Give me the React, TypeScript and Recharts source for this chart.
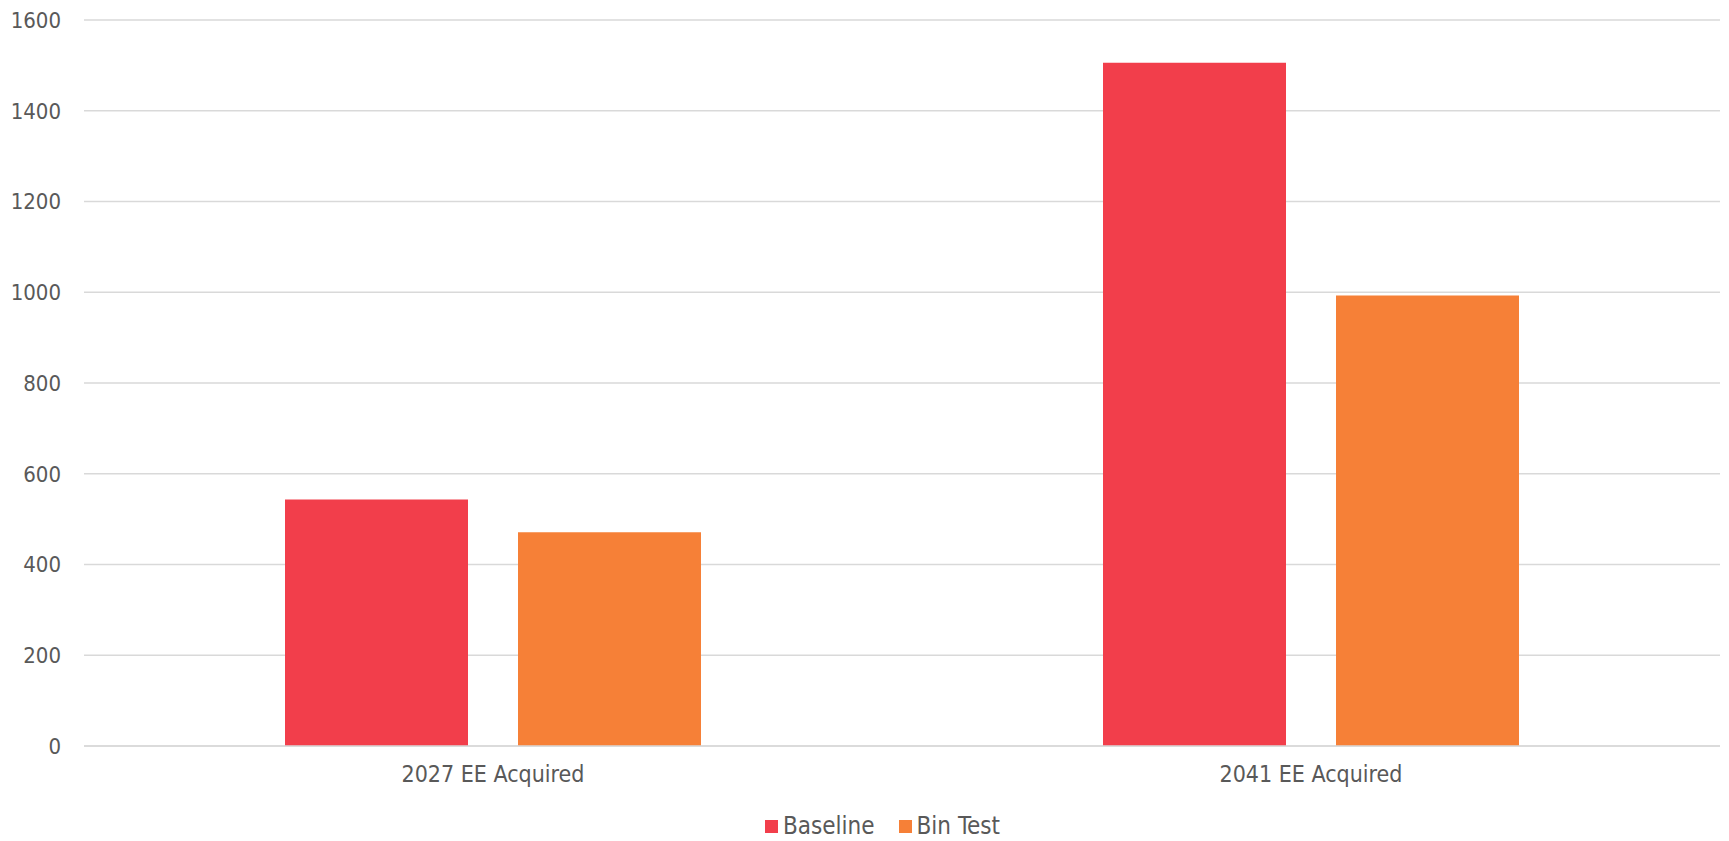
import { BarChart, Bar, XAxis, YAxis, CartesianGrid, Legend } from "recharts";

const categories = ["2027 EE Acquired", "2041 EE Acquired"];
const baseline = [543, 1506];
const binTest = [471, 993];
const yTicks = [0, 200, 400, 600, 800, 1000, 1200, 1400, 1600];

const FONT = "'DejaVu Sans Condensed', 'DejaVu Sans', sans-serif";
const TEXT = "#595959";

const data = categories.map((name, i) => ({
    name,
    baseline: baseline[i],
    binTest: binTest[i],
}));

// eslint-disable-next-line @typescript-eslint/no-explicit-any
const LegendContent = ({ payload }: { payload?: any[] }) => (
    <div
        style={{
            display: "flex",
            justifyContent: "center",
            gap: 24,
            paddingLeft: 36,
            fontFamily: FONT,
            fontSize: 24,
            color: TEXT,
        }}
    >
        {(payload || []).map((entry) => (
            <div
                key={entry.value}
                style={{ display: "flex", alignItems: "center", gap: 5 }}
            >
                <span
                    style={{
                        width: 13,
                        height: 13,
                        background: entry.color,
                        display: "inline-block",
                    }}
                />
                <span>{entry.value}</span>
            </div>
        ))}
    </div>
);

export default function App() {
    return (
        <div style={{ position: "absolute", left: 0, top: 0, background: "#fff" }}>
            <BarChart
                width={1729}
                height={841}
                data={data}
                margin={{ top: 20, right: 9, left: 0, bottom: 1 }}
                barGap={50}
                barSize={183}
            >
                <CartesianGrid
                    vertical={false}
                    stroke="#D9D9D9"
                    strokeWidth={1.5}
                />
                <XAxis
                    dataKey="name"
                    axisLine={{ stroke: "#D9D9D9", strokeWidth: 1.5 }}
                    tickLine={false}
                    tickMargin={14}
                    height={66}
                    tick={{ fill: TEXT, fontSize: 23, fontFamily: FONT }}
                />
                <YAxis
                    domain={[0, 1600]}
                    ticks={yTicks}
                    axisLine={false}
                    tickLine={false}
                    tickMargin={17}
                    width={84}
                    tick={{ fill: TEXT, fontSize: 22, fontFamily: FONT }}
                />
                <Legend
                    content={<LegendContent />}
                    wrapperStyle={{ left: 0, width: 1729 }}
                />
                <Bar
                    dataKey="baseline"
                    name="Baseline"
                    fill="#F23E4B"
                    isAnimationActive={false}
                />
                <Bar
                    dataKey="binTest"
                    name="Bin Test"
                    fill="#F68037"
                    isAnimationActive={false}
                />
            </BarChart>
        </div>
    );
}
